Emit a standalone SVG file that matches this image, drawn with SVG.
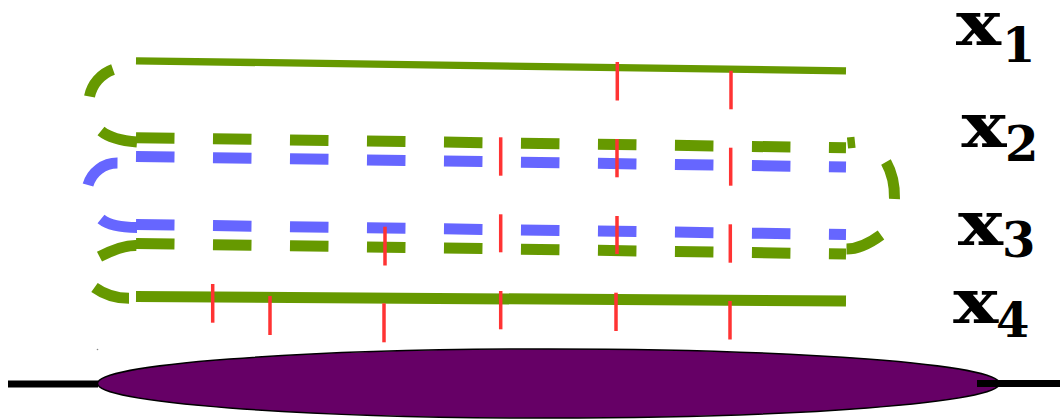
<svg xmlns="http://www.w3.org/2000/svg" width="1060" height="420" viewBox="0 0 1060 420">
  <style>
    .g { stroke: #669900; fill: none; }
    .b { stroke: #6666ff; fill: none; }
    .w11 { stroke-width: 11; }
    .dash { stroke-dasharray: 38.5 38.5; }
    .tick { stroke: #ff3333; stroke-width: 3.5; }
    .lbl { font-family: "DejaVu Serif", "Liberation Serif", serif; font-weight: bold; fill: #000; }
    .main { font-size: 62px; }
    .sub { font-size: 48px; }
  </style>
  <rect width="1060" height="420" fill="#ffffff"/>

  <g id="base">
    <line x1="8" y1="384" x2="98" y2="384" stroke="#000" stroke-width="7"/>
    <ellipse cx="548.5" cy="383.5" rx="451" ry="34.5" fill="#660066" stroke="#000" stroke-width="1.5"/>
    <line x1="977" y1="383.5" x2="1060" y2="383.5" stroke="#000" stroke-width="7"/>
    <circle cx="97.5" cy="349.5" r="0.8" fill="#888"/>
  </g>

  <g id="connectors">
    <!-- strand x1 (solid green) -->
    <line class="g" x1="136" y1="60.8" x2="846" y2="70.8" stroke-width="7.3"/>
    <!-- left bend x1 -> x2 (green dashed) -->
    <path class="g w11" d="M113,69.5 A36.5,36.5 0 0 0 89.5,96.5 M101,131 Q112,140 137,142"/>
    <!-- strand x2 green dashed -->
    <line class="g w11 dash" x1="136" y1="137.7" x2="846" y2="147.8"/>
    <!-- strand x2 blue dashed -->
    <line class="b w11 dash" x1="136" y1="156.5" x2="846" y2="167"/>
    <!-- left bend blue -->
    <path class="b w11" d="M117.5,163 A30.5,30.5 0 0 0 88,185 M101,219 Q111.5,227.5 137,227.5"/>
    <!-- right bend green x2 -> x3 -->
    <path class="g w11" d="M847.5,143 L855,142.2 M886,162 Q895,178 894.5,199 M881,235 Q862,249 846.5,249"/>
    <!-- strand x3 blue dashed -->
    <line class="b w11 dash" x1="136" y1="224.5" x2="846" y2="234.5"/>
    <!-- strand x3 green dashed -->
    <line class="g w11 dash" x1="136" y1="243.5" x2="846" y2="254"/>
    <!-- left bend green x3 -> x4 -->
    <path class="g w11" d="M136.5,245.5 Q122,245 99.5,256.7 M94.5,287.5 Q109.5,298.3 129,298.3"/>
    <!-- strand x4 (solid green) -->
    <line class="g w11" x1="136" y1="296.4" x2="846" y2="301.1"/>
  </g>

  <g id="ticks">
    <line class="tick" x1="617.3" y1="62" x2="617.3" y2="100.5"/>
    <line class="tick" x1="731" y1="70.7" x2="731" y2="109.3"/>

    <line class="tick" x1="500.7" y1="137.3" x2="500.7" y2="175.7"/>
    <line class="tick" x1="617" y1="139" x2="617" y2="177.3"/>
    <line class="tick" x1="730.7" y1="147.7" x2="730.7" y2="185.7"/>

    <line class="tick" x1="385" y1="226.7" x2="385" y2="265.5"/>
    <line class="tick" x1="500.7" y1="214.3" x2="500.7" y2="252.3"/>
    <line class="tick" x1="617" y1="216" x2="617" y2="254"/>
    <line class="tick" x1="730.3" y1="224.3" x2="730.3" y2="262.7"/>

    <line class="tick" x1="212.7" y1="284" x2="212.7" y2="322.7"/>
    <line class="tick" x1="270" y1="296" x2="270" y2="335"/>
    <line class="tick" x1="384" y1="303.3" x2="384" y2="342.3"/>
    <line class="tick" x1="500.7" y1="291" x2="500.7" y2="329.3"/>
    <line class="tick" x1="616" y1="292.7" x2="616" y2="331"/>
    <line class="tick" x1="730" y1="301" x2="730" y2="339.5"/>
  </g>

  <g id="labels">
    <g id="label-x1">
      <text class="lbl main" x="956" y="45" textLength="45" lengthAdjust="spacingAndGlyphs">x</text>
      <text class="lbl sub" x="1002" y="61.5">1</text>
    </g>
    <g id="label-x2">
      <text class="lbl main" x="961.5" y="146.5" textLength="45" lengthAdjust="spacingAndGlyphs">x</text>
      <text class="lbl sub" x="1005" y="160.5">2</text>
    </g>
    <g id="label-x3">
      <text class="lbl main" x="958" y="245" textLength="45" lengthAdjust="spacingAndGlyphs">x</text>
      <text class="lbl sub" x="1002" y="256.5">3</text>
    </g>
    <g id="label-x4">
      <text class="lbl main" x="953.3" y="323.3" textLength="45" lengthAdjust="spacingAndGlyphs">x</text>
      <text class="lbl sub" x="996" y="337">4</text>
    </g>
  </g>
</svg>
